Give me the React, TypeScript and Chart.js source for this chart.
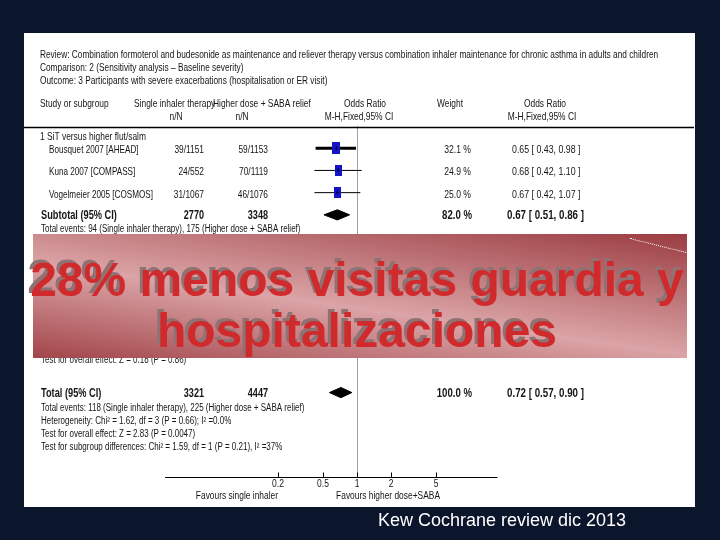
import React, { useEffect, useRef } from "react";
import { Chart, registerables } from "chart.js";
Chart.register(...registerables);

// ---------- data ----------
const reviewTitle =
  "Review: Combination formoterol and budesonide as maintenance and reliever therapy versus combination inhaler maintenance for chronic asthma in adults and children";
const comparisonTitle = "Comparison: 2 (Sensitivity analysis – Baseline severity)";
const outcomeTitle = "Outcome: 3 Participants with severe exacerbations (hospitalisation or ER visit)";

const subgroupName = "1 SiT versus higher flut/salm";
const studies = ["Bousquet 2007 [AHEAD]", "Kuna 2007 [COMPASS]", "Vogelmeier 2005 [COSMOS]"];
const singleEvents = [39, 24, 31];
const singleTotals = [1151, 552, 1067];
const higherEvents = [59, 70, 46];
const higherTotals = [1153, 1119, 1076];
const weights = [32.1, 24.9, 25.0];
const oddsRatios = [0.65, 0.68, 0.67];
const ciLow = [0.43, 0.42, 0.42];
const ciHigh = [0.98, 1.1, 1.07];

const summaryLabels = ["Subtotal (95% CI)", "Total (95% CI)"];
const summarySingleN = [2770, 3321];
const summaryHigherN = [3348, 4447];
const summaryWeights = [82.0, 100.0];
const summaryOR = [0.67, 0.72];
const summaryLow = [0.51, 0.57];
const summaryHigh = [0.86, 0.9];

const subgroupEventsNote = "Total events: 94 (Single inhaler therapy), 175 (Higher dose + SABA relief)";
const hiddenNote = "Test for overall effect: Z = 0.18 (P = 0.86)";
const totalNotes = [
  "Total events: 118 (Single inhaler therapy), 225 (Higher dose + SABA relief)",
  "Heterogeneity: Chi² = 1.62, df = 3 (P = 0.66); I² =0.0%",
  "Test for overall effect: Z = 2.83 (P = 0.0047)",
  "Test for subgroup differences: Chi² = 1.59, df = 1 (P = 0.21), I² =37%",
];
const axisTicks = [0.2, 0.5, 1, 2, 5];
const axisTickLabels = ["0.2", "0.5", "1", "2", "5"];
const favoursLeft = "Favours single inhaler";
const favoursRight = "Favours higher dose+SABA";
const bannerLines = ["28% menos visitas guardia y", "hospitalizaciones"];
const caption = "Kew Cochrane review dic 2013";

// ---------- layout constants ----------
const TOTAL_ROW = 12;
const FONT = '"Liberation Sans", Arial, sans-serif';

function drawText(
  ctx: CanvasRenderingContext2D,
  s: string,
  x: number,
  y: number,
  o: { align?: CanvasTextAlign; bold?: boolean; size?: number; sx?: number; color?: string } = {}
) {
  const { align = "left", bold = false, size = 10.5, sx = 0.8, color = "#151515" } = o;
  ctx.save();
  ctx.translate(x, y);
  ctx.scale(sx, 1);
  ctx.font = `${bold ? "bold " : ""}${size}px ${FONT}`;
  ctx.fillStyle = color;
  ctx.textAlign = align;
  ctx.textBaseline = "middle";
  ctx.fillText(s, 0, 0);
  ctx.restore();
}

const fmtCI = (v: number, lo: number, hi: number) => `${v.toFixed(2)} [ ${lo.toFixed(2)}, ${hi.toFixed(2)} ]`;

const forestPlugin = {
  id: "forestText",
  beforeDatasetsDraw(chart: any) {
    const { ctx, chartArea, scales } = chart;
    const x1 = Math.round(scales.x.getPixelForValue(1)) + 0.5;
    ctx.save();
    ctx.strokeStyle = "#a0a0a0";
    ctx.lineWidth = 1;
    ctx.beginPath();
    ctx.moveTo(x1, chartArea.top);
    ctx.lineTo(x1, chartArea.bottom);
    ctx.stroke();
    // header rule
    ctx.strokeStyle = "#000";
    ctx.lineWidth = 1.5;
    ctx.beginPath();
    ctx.moveTo(24, chartArea.top + 1.5);
    ctx.lineTo(694, chartArea.top + 1.5);
    ctx.stroke();
    // axis
    const ay = Math.round(chartArea.bottom) + 0.5;
    ctx.lineWidth = 1;
    ctx.beginPath();
    ctx.moveTo(chartArea.left, ay);
    ctx.lineTo(chartArea.right, ay);
    axisTicks.forEach((t) => {
      const tx = Math.round(scales.x.getPixelForValue(t)) + 0.5;
      ctx.moveTo(tx, ay);
      ctx.lineTo(tx, ay - 5);
    });
    ctx.stroke();
    ctx.restore();
  },
  afterDraw(chart: any) {
    const { ctx, chartArea, scales } = chart;
    const x = scales.x;
    const y = scales.y;
    // titles
    drawText(ctx, reviewTitle, 40, 55, { size: 10, sx: 0.83 });
    drawText(ctx, comparisonTitle, 40, 68, { size: 10, sx: 0.83 });
    drawText(ctx, outcomeTitle, 40, 81, { size: 10, sx: 0.83 });
    // column headers
    drawText(ctx, "Study or subgroup", 40, 104, { size: 10.5 });
    drawText(ctx, "Single inhaler therapy", 134, 104, { size: 10.5 });
    drawText(ctx, "Higher dose + SABA relief", 213, 104, { size: 10.5 });
    drawText(ctx, "n/N", 176, 117, { size: 10.5, align: "center" });
    drawText(ctx, "n/N", 242, 117, { size: 10.5, align: "center" });
    drawText(ctx, "Odds Ratio", x.getPixelForValue(1) + 8, 104, { size: 10.5, align: "center" });
    drawText(ctx, "M-H,Fixed,95% CI", x.getPixelForValue(1) + 2, 117, { size: 10.5, align: "center" });
    drawText(ctx, "Weight", 437, 104, { size: 10.5 });
    drawText(ctx, "Odds Ratio", 545, 104, { size: 10.5, align: "center" });
    drawText(ctx, "M-H,Fixed,95% CI", 542, 117, { size: 10.5, align: "center" });

    // subgroup
    drawText(ctx, subgroupName, 40, y.getPixelForValue(0.5), { size: 10.5 });
    studies.forEach((s, i) => {
      const ry = y.getPixelForValue(i + 1) + 2;
      drawText(ctx, s, 49, ry, { size: 11, sx: 0.74 });
      drawText(ctx, `${singleEvents[i]}/${singleTotals[i]}`, 204, ry, { size: 11, sx: 0.76, align: "right" });
      drawText(ctx, `${higherEvents[i]}/${higherTotals[i]}`, 268, ry, { size: 11, sx: 0.76, align: "right" });
      drawText(ctx, `${weights[i].toFixed(1)} %`, 471, ry, { size: 11, sx: 0.78, align: "right" });
      drawText(ctx, fmtCI(oddsRatios[i], ciLow[i], ciHigh[i]), 512, ry, { size: 11, sx: 0.8 });
    });
    const sRows = [studies.length + 1, TOTAL_ROW];
    summaryLabels.forEach((lab, i) => {
      const ry = y.getPixelForValue(sRows[i]) + 1;
      drawText(ctx, lab, 41, ry, { size: 13, bold: true, sx: 0.71 });
      drawText(ctx, `${summarySingleN[i]}`, 204, ry, { size: 13, bold: true, sx: 0.7, align: "right" });
      drawText(ctx, `${summaryHigherN[i]}`, 268, ry, { size: 13, bold: true, sx: 0.7, align: "right" });
      drawText(ctx, `${summaryWeights[i].toFixed(1)} %`, 472, ry, { size: 13, bold: true, sx: 0.74, align: "right" });
      drawText(ctx, fmtCI(summaryOR[i], summaryLow[i], summaryHigh[i]), 507, ry, { size: 13, bold: true, sx: 0.75 });
    });
    drawText(ctx, subgroupEventsNote, 41, y.getPixelForValue(studies.length + 1) + 14, { size: 10 });
    drawText(ctx, hiddenNote, 41, 360, { size: 10 });
    const ty = y.getPixelForValue(TOTAL_ROW);
    totalNotes.forEach((n, i) => {
      drawText(ctx, n, 41, ty + 16 + i * 13, { size: 10, sx: 0.8 });
    });
    // axis labels
    const ay = chartArea.bottom;
    axisTicks.forEach((t, i) => {
      drawText(ctx, axisTickLabels[i], x.getPixelForValue(t), ay + 7, { size: 10, sx: 0.85, align: "center" });
    });
    drawText(ctx, favoursLeft, x.getPixelForValue(0.2), ay + 19, { size: 10.5, sx: 0.8, align: "right" });
    drawText(ctx, favoursRight, x.getPixelForValue(2) - 3, ay + 19, { size: 10.5, sx: 0.8, align: "center" });
  },
};

export default function App() {
  const ref = useRef<HTMLCanvasElement>(null);
  useEffect(() => {
    const canvas = ref.current!;
    const boxImages = weights.map((w) => {
      const c = document.createElement("canvas");
      const bw = Math.round(1.45 * Math.sqrt(w));
      const bh = Math.round(2.2 * Math.sqrt(w));
      c.width = bw;
      c.height = bh;
      const g = c.getContext("2d")!;
      g.fillStyle = "#1515c8";
      g.fillRect(0, 0, bw, bh);
      g.fillStyle = "#000040";
      g.fillRect(Math.floor(bw / 2), Math.floor(bh / 2) - 2, 1, 4);
      g.fillRect(Math.floor(bw / 2) - 1, Math.floor(bh / 2), 3, 1);
      return c;
    });
    const dh = 0.23;
    const datasets: any[] = [];
    studies.forEach((s, i) => {
      datasets.push({
        label: s,
        data: [
          { x: ciLow[i], y: i + 1 },
          { x: ciHigh[i], y: i + 1 },
        ],
        showLine: true,
        borderColor: "#000",
        borderWidth: i === 0 ? 3 : 1,
        pointRadius: 0,
        order: 3,
      });
    });
    datasets.push({
      label: "OR",
      data: oddsRatios.map((v, i) => ({ x: v, y: i + 1 })),
      pointStyle: (c: any) => boxImages[c.dataIndex],
      pointRadius: 5,
      order: 1,
    });
    const sRows = [studies.length + 1, TOTAL_ROW];
    summaryOR.forEach((v, i) => {
      const r = sRows[i];
      datasets.push({
        label: summaryLabels[i],
        data: [
          { x: summaryLow[i], y: r },
          { x: v, y: r - dh },
          { x: summaryHigh[i], y: r },
          { x: v, y: r + dh },
          { x: summaryLow[i], y: r },
        ],
        showLine: true,
        fill: "shape",
        backgroundColor: "#000",
        borderColor: "#000",
        borderWidth: 1,
        pointRadius: 0,
        tension: 0,
        order: 2,
      });
    });
    const chart = new Chart(canvas, {
      type: "scatter",
      data: { datasets },
      options: {
        responsive: false,
        animation: false,
        events: [],
        layout: { padding: { left: 165, right: 222.5, top: 126, bottom: 63 } },
        scales: {
          x: { type: "logarithmic", min: 0.02, max: 17.5, display: false },
          y: { type: "linear", min: 0, max: 15.8, reverse: true, display: false },
        },
        plugins: { legend: { display: false }, tooltip: { enabled: false } },
      },
      plugins: [forestPlugin],
    } as any);
    return () => chart.destroy();
  }, []);

  return (
    <div
      style={{
        position: "fixed",
        left: 0,
        top: 0,
        width: 720,
        height: 540,
        background: "#0b152c",
        overflow: "hidden",
        fontFamily: FONT,
      }}
    >
      <div style={{ position: "absolute", left: 24, top: 33, width: 671, height: 474, background: "#fff" }} />
      <canvas ref={ref} width={720} height={540} style={{ position: "absolute", left: 0, top: 0, width: 720, height: 540 }} />
      <div
        style={{
          position: "absolute",
          left: 33,
          top: 234,
          width: 654,
          height: 124,
          background: "linear-gradient(8deg, #a2454a 0%, #dba4a6 44%, #9b3d42 100%)",
        }}
      />
      <div
        style={{
          position: "absolute",
          left: 630,
          top: 238,
          width: 60,
          borderTop: "1px dotted #ffffff",
          transform: "rotate(14deg)",
          transformOrigin: "left top",
        }}
      />
      <div
        style={{
          position: "absolute",
          left: 0,
          top: 254,
          width: 714,
          textAlign: "center",
          fontWeight: "bold",
          fontSize: 48,
          lineHeight: "51px",
          color: "#d02a2c",
          whiteSpace: "nowrap",
          textShadow: "-3px -3px 0 #8e7274",
        }}
      >
        {bannerLines.map((l, i) => (
          <div key={i}>{l}</div>
        ))}
      </div>
      <div
        style={{
          position: "absolute",
          left: 378,
          top: 510,
          fontSize: 18,
          lineHeight: "20px",
          color: "#ffffff",
          whiteSpace: "nowrap",
        }}
      >
        {caption}
      </div>
    </div>
  );
}
